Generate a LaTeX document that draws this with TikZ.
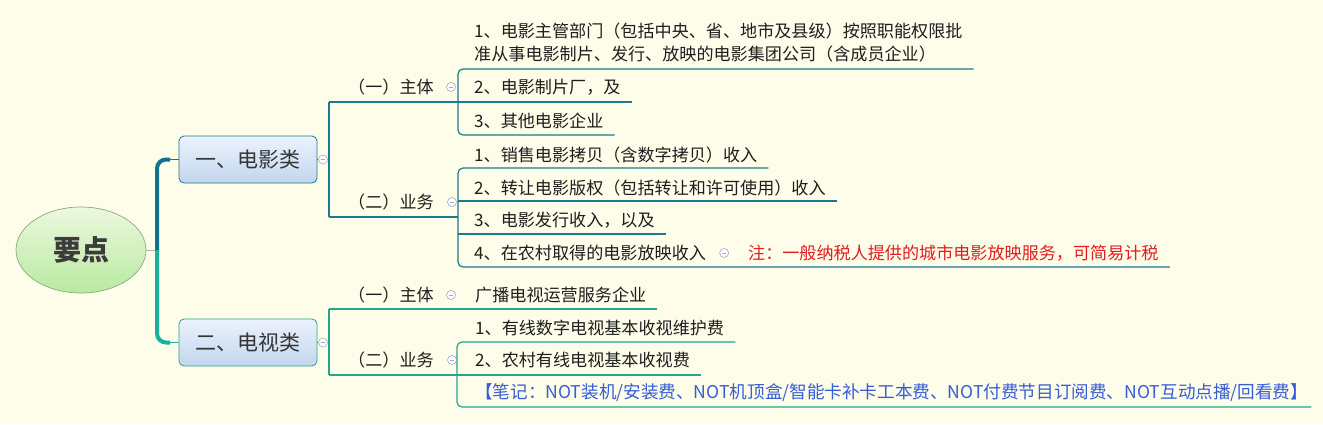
\documentclass[tikz,border=0pt]{standalone}
\usepackage{fontspec}
\setmainfont{Noto Sans CJK SC}
\usetikzlibrary{shapes.geometric,shadings,calc}
\definecolor{bgc}{RGB}{253,253,234}
\definecolor{filmc}{RGB}{28,122,140}
\definecolor{tvc}{RGB}{36,166,142}
\definecolor{trunkup}{RGB}{16,114,140}
\definecolor{trunkdn}{RGB}{26,176,154}
\definecolor{txt}{RGB}{30,30,30}
\definecolor{notered}{RGB}{228,28,28}
\definecolor{noteblue}{RGB}{54,92,214}
\definecolor{circc}{RGB}{158,170,198}
\definecolor{rootdraw}{RGB}{140,170,130}
\definecolor{roottop}{RGB}{236,248,222}
\definecolor{rootbot}{RGB}{184,234,160}
\definecolor{boxtop}{RGB}{236,242,252}
\definecolor{boxbot}{RGB}{194,214,238}
\begin{document}
\begin{tikzpicture}[x=1pt,y=-1pt,
  topic/.style={anchor=west, inner sep=0pt, text=txt, font=\fontsize{17.1}{23}\selectfont, align=left},
  fline/.style={draw=filmc, line width=1.2pt},
  tline/.style={draw=tvc, line width=1.2pt},
  collapse/.style={circle, draw=circc, fill=white, line width=0.6pt, minimum size=9pt, inner sep=0pt,
    path picture={\draw[circc, line width=0.7pt] ([xshift=-2.3pt]path picture bounding box.center) -- ([xshift=2.3pt]path picture bounding box.center);}},
  mainbox/.style={rectangle, rounded corners=5pt, minimum width=138pt, minimum height=47pt, top color=boxtop, bottom color=boxbot, line width=0.8pt, text=txt!90, font=\fontsize{21}{24}\selectfont}
]
\useasboundingbox (0,0) rectangle (1323,424);
\fill[bgc] (0,0) rectangle (1323,424);

% root
\node[ellipse, minimum width=130pt, minimum height=86pt, draw=rootdraw, line width=0.7pt, top color=roottop, bottom color=rootbot, text={rgb,255:red,60;green,60;blue,60}, font=\fontsize{28}{30}\selectfont\bfseries] (root) at (81,250) {要点};

% main boxes
\node[mainbox, draw=filmc] (box1) at (248,159.5) {一、电影类};
\node[mainbox, draw=tvc] (box2) at (248,342.5) {二、电视类};

% trunk
\coordinate (rj) at (157,250);
\coordinate (k1) at (170,159.5);
\coordinate (k2) at (170,342.5);
\draw[gray!60, line width=0.8pt] (root.east) -- (rj);
\draw[trunkup, line width=4pt, rounded corners=9pt] (rj) |- (k1);
\draw[trunkup, line width=1.8pt] (k1) -- (box1.west);
\draw[trunkdn, line width=4pt, rounded corners=9pt] (rj) |- (k2);
\draw[trunkdn, line width=1.8pt] (k2) -- (box2.west);

% ---------- film ----------
\coordinate (fa) at (329,102);
\coordinate (fb) at (329,217);
\node[collapse] (cb1) at (323,159.5) {};
\draw[fline] (fa) -- (fb);
\draw[fline, line width=0.8pt] (box1.east) -- (cb1.west);
\draw[fline] (cb1.east) -- (cb1 -| fa);

% (一) 主体
\node[topic] (fz) at (348,87) {（一）主体};
\node[collapse] (cfz) at (451,87) {};
\node[topic] (c1) at (474,42.5) {1、电影主管部门（包括中央、省、地市及县级）按照职能权限批\\准从事电影制片、发行、放映的电影集团公司（含成员企业）};
\node[topic] (c2) at (474,87) {2、电影制片厂，及};
\node[topic] (c3) at (474,120.5) {3、其他电影企业};
\coordinate (c1U) at (458,69);
\coordinate (fzU) at (458,102);
\coordinate (c3U) at (458,135);
\draw[fline] (fa) -- (fzU) -- ($(c2.east |- fzU)+(11,0)$);
\draw[fline, rounded corners=5pt] ($(c1.east |- c1U)+(11,0)$) -- (c1U) -- (c3U) -- ($(c3.east |- c3U)+(11,0)$);

% (二) 业务
\node[topic] (fy) at (348,202) {（二）业务};
\node[collapse] (cfy) at (452,202) {};
\node[topic] (d1) at (474,154.5) {1、销售电影拷贝（含数字拷贝）收入};
\node[topic] (d2) at (474,187.5) {2、转让电影版权（包括转让和许可使用）收入};
\node[topic] (d3) at (474,220.5) {3、电影发行收入，以及};
\node[topic] (d4) at (474,253) {4、在农村取得的电影放映收入};
\node[collapse] (cd4) at ($(d4.east)+(18,0)$) {};
\node[topic, text=notered] (n1) at ($(cd4.east)+(19,0)$) {注：一般纳税人提供的城市电影放映服务，可简易计税};
\coordinate (d1U) at (458,168);
\coordinate (d2U) at (458,201);
\coordinate (fyU) at (458,217);
\coordinate (d3U) at (458,234);
\coordinate (d4U) at (458,267);
\draw[fline] (fb) -- (fyU);
\draw[fline, rounded corners=5pt] ($(d1.east |- d1U)+(11,0)$) -- (d1U) -- (d4U) -- ($(n1.east |- d4U)+(11,0)$);
\draw[fline] (d2U) -- ($(d2.east |- d2U)+(11,0)$);
\draw[fline] (d3U) -- ($(d3.east |- d3U)+(11,0)$);

% ---------- TV ----------
\coordinate (ta) at (329,309);
\coordinate (tb) at (329,375);
\node[collapse] (cb2) at (323,342.5) {};
\draw[tline] (ta) -- (tb);
\draw[tline, line width=0.8pt] (box2.east) -- (cb2.west);
\draw[tline] (cb2.east) -- (cb2 -| ta);

% (一) 主体
\node[topic] (tz) at (348,295) {（一）主体};
\node[collapse] (ctz) at (451,295) {};
\node[topic] (g1) at (475,295) {广播电视运营服务企业};
\draw[tline] (ta) -- ($(g1.east |- ta)+(11,0)$);

% (二) 业务
\node[topic] (ty) at (348,360) {（二）业务};
\node[collapse] (cty) at (452,360) {};
\node[topic] (e1) at (475,327.5) {1、有线数字电视基本收视维护费};
\node[topic] (e2) at (475,360) {2、农村有线电视基本收视费};
\node[topic, text=noteblue, font=\fontsize{17.6}{23}\selectfont] (e3) at (475,392.5) {【笔记：NOT装机/安装费、NOT机顶盒/智能卡补卡工本费、NOT付费节目订阅费、NOT互动点播/回看费】};
\coordinate (e1U) at (457,342);
\coordinate (e3U) at (457,407);
\draw[tline] (tb) -- ($(e2.east |- tb)+(11,0)$);
\draw[tline, rounded corners=5pt] ($(e1.east |- e1U)+(11,0)$) -- (e1U) -- (e3U) -- ($(e3.east |- e3U)+(3,0)$);
\end{tikzpicture}
\end{document}
